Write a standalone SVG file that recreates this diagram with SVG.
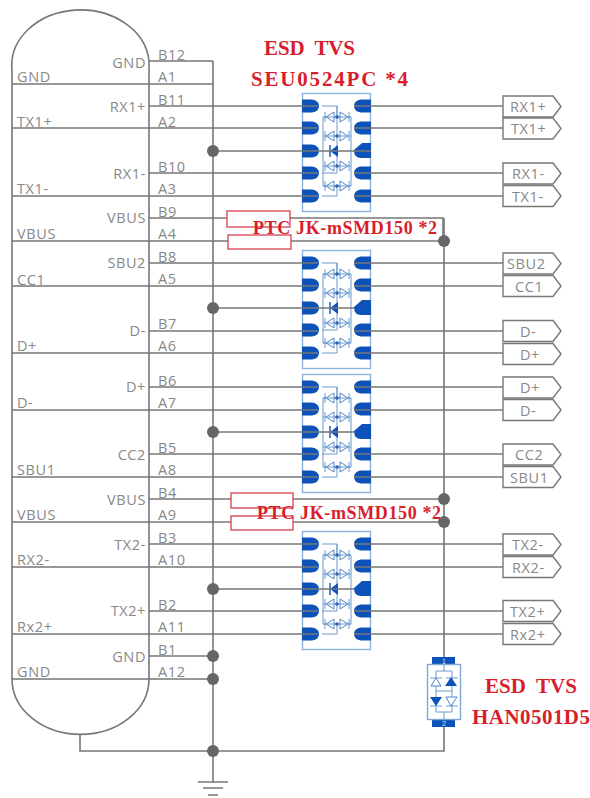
<svg xmlns="http://www.w3.org/2000/svg" width="590" height="798" viewBox="0 0 590 798">
<style>
.w{fill:none;stroke:#777;stroke-width:1.6}
.t{font-family:"Open Sans","Liberation Sans",sans-serif;font-size:14.5px;fill:#888;letter-spacing:.6px}
.e{text-anchor:end}
.r{font-family:"Liberation Serif",serif;font-weight:bold;fill:#d81e2c;font-size:21px;white-space:pre}
.s{font-size:18px}
.p{fill:#fff;stroke:#d5404c;stroke-width:1.3}
.tag{fill:#fff;stroke:#777;stroke-width:1.4}
.d{fill:#666}
.pad{fill:#0d52b8}
.thin{fill:none;stroke:#6d9ad0;stroke-width:1}
.dio{fill:#fff;stroke:#4f86c6;stroke-width:1}
.n{font-family:"Liberation Sans",sans-serif;font-size:7px;fill:#cfe0f5;text-anchor:middle}
</style>
<defs>
<path id="lpad" class="pad" d="M0 -6.500H10Q17 -5.500 17 0Q17 5.500 10 6.500H0Z"/>
<path id="rpad" class="pad" d="M17 -6.500H7Q0 -5.500 0 0Q0 5.500 7 6.500H17Z"/>
<g id="pair"><path class="dio" d="M-3 -5V5L-11 0Z"/><path class="dio" d="M3 -5V5L11 0Z"/><path class="thin" d="M-12 -5V5M12 -5V5M-14 0H14"/><circle cx="0" cy="0" r="1.8" fill="#2a63b5"/></g>
<g id="chip">
<rect x="0.5" y="0.5" width="68" height="118" fill="#fff" stroke="#8fb2dc" stroke-width="1.4"/>
<path class="thin" d="M20 13H35V24M20 103H35V93M20 80H35V13M21 24H49V93H21Z"/>
<use href="#pair" x="35" y="24"/><use href="#pair" x="35" y="43"/><use href="#pair" x="35" y="73"/><use href="#pair" x="35" y="93"/>
<path d="M36 52V64L28 58Z" fill="#0d52b8"/><path d="M28 52V64" stroke="#0d52b8" stroke-width="1.4"/>
<use href="#lpad" y="13"/><use href="#lpad" y="35"/><use href="#lpad" y="58"/><use href="#lpad" y="80"/><use href="#lpad" y="103"/>
<use href="#rpad" x="52" y="13"/><use href="#rpad" x="52" y="35"/><path class="pad" d="M69 50H60L52 57Q52 65 59 65H69Z"/><use href="#rpad" x="52" y="80"/><use href="#rpad" x="52" y="103"/>
</g>
<path id="tagp" class="tag" d="M0 -10.500H50L58 0L50 10.500H0Z"/>
</defs>
<rect width="590" height="798" fill="#fff"/>

<g id="esd-1"><use href="#chip" x="302" y="93"/></g>
<g id="esd-2"><use href="#chip" x="302" y="250"/></g>
<g id="esd-3"><use href="#chip" x="302" y="374"/></g>
<g id="esd-4"><use href="#chip" x="302" y="531"/></g>

<g id="esd-han">
<rect x="432" y="657" width="23" height="8" class="pad"/><rect x="432" y="719" width="23" height="8" class="pad"/>
<rect x="427.500" y="664.500" width="33" height="55" fill="#fff" stroke="#7fa6d6" stroke-width="1.4"/>
<path class="thin" d="M444 665V671H436V712H452V671H444M444 712V719M430 678H442M446 678H458M430 706H442M446 706H458M436 691H452"/>
<path class="dio" d="M436 678L431 686H441Z"/><path d="M451 677L445 686H457Z" class="pad"/><path d="M430 697H442L436 706Z" class="pad"/><path class="dio" d="M446 697H457L451 706Z"/>
<text class="n" x="444" y="664">1</text><text class="n" x="444" y="726">2</text>
</g>

<g id="usb-outline">
<path class="w" d="M149 84V61A68 55 0 0 0 12 70V679A68 55 0 0 0 149 679V84"/>
</g>

<g id="connectors">
<path class="w" d="M149 61H213M12 84H213M149 106H318M12 128H318M213 151H354M149 173H318M12 196H318M149 218H443V241M12 241H443M149 263H318M12 286H318M213 308H354M149 331H318M12 353H318M149 387H318M12 410H318M213 432H354M149 454H318M12 477H318M149 499H444M12 522H444M149 544H318M12 567H318M213 589H354M149 611H318M12 634H318M149 656H213M12 679H213"/>
<path class="w" d="M354 106H503M354 128H503M354 151H371M354 173H503M354 196H503M354 263H503M354 286H503M354 331H503M354 353H503M354 387H503M354 410H503M354 454H503M354 477H503M354 544H503M354 567H503M354 611H503M354 634H503"/>
<path class="w" d="M213 61V782M444 218V657M444 727V751H80V734"/>
<path class="w" d="M198 782H228M203 788H223M208 795H218"/>
</g>

<g id="junctions" class="d">
<circle cx="213" cy="151" r="6"/><circle cx="213" cy="308" r="6"/><circle cx="213" cy="432" r="6"/><circle cx="213" cy="589" r="6"/><circle cx="213" cy="656" r="6"/><circle cx="213" cy="679" r="6"/><circle cx="213" cy="751" r="6"/>
<circle cx="444" cy="241" r="6"/><circle cx="444" cy="499" r="6"/><circle cx="444" cy="522" r="6"/>
</g>

<g id="usb-connector-labels">
<text class="t" x="17" y="82">GND</text><text class="t" x="17" y="127">TX1+</text><text class="t" x="17" y="194">TX1-</text><text class="t" x="17" y="239">VBUS</text><text class="t" x="17" y="285">CC1</text><text class="t" x="17" y="351">D+</text><text class="t" x="17" y="408">D-</text><text class="t" x="17" y="475">SBU1</text><text class="t" x="17" y="520">VBUS</text><text class="t" x="17" y="565">RX2-</text><text class="t" x="17" y="632">Rx2+</text><text class="t" x="17" y="677">GND</text>
<text class="t e" x="146" y="68">GND</text><text class="t e" x="146" y="112">RX1+</text><text class="t e" x="146" y="179">RX1-</text><text class="t e" x="146" y="223">VBUS</text><text class="t e" x="146" y="268">SBU2</text><text class="t e" x="146" y="336">D-</text><text class="t e" x="146" y="392">D+</text><text class="t e" x="146" y="460">CC2</text><text class="t e" x="146" y="505">VBUS</text><text class="t e" x="146" y="550">TX2-</text><text class="t e" x="146" y="616">TX2+</text><text class="t e" x="146" y="662">GND</text>
<text class="t" x="158" y="60">B12</text><text class="t" x="158" y="82">A1</text><text class="t" x="158" y="105">B11</text><text class="t" x="158" y="127">A2</text><text class="t" x="158" y="172">B10</text><text class="t" x="158" y="194">A3</text><text class="t" x="158" y="217">B9</text><text class="t" x="158" y="239">A4</text><text class="t" x="158" y="262">B8</text><text class="t" x="158" y="284">A5</text><text class="t" x="158" y="329">B7</text><text class="t" x="158" y="351">A6</text><text class="t" x="158" y="386">B6</text><text class="t" x="158" y="408">A7</text><text class="t" x="158" y="453">B5</text><text class="t" x="158" y="475">A8</text><text class="t" x="158" y="498">B4</text><text class="t" x="158" y="520">A9</text><text class="t" x="158" y="543">B3</text><text class="t" x="158" y="565">A10</text><text class="t" x="158" y="610">B2</text><text class="t" x="158" y="632">A11</text><text class="t" x="158" y="655">B1</text><text class="t" x="158" y="677">A12</text>
</g>

<g id="ptc-top"><rect class="p" x="227" y="211" width="63" height="16"/><rect class="p" x="228" y="235" width="63" height="14"/></g>
<g id="ptc-bottom"><rect class="p" x="231" y="493" width="62" height="15"/><rect class="p" x="231" y="516" width="62" height="14"/></g>

<g id="tags">
<use href="#tagp" x="503" y="106.500"/><use href="#tagp" x="503" y="128.500"/><use href="#tagp" x="503" y="173.500"/><use href="#tagp" x="503" y="196"/><use href="#tagp" x="503" y="263.500"/><use href="#tagp" x="503" y="286"/><use href="#tagp" x="503" y="331"/><use href="#tagp" x="503" y="354"/><use href="#tagp" x="503" y="387.500"/><use href="#tagp" x="503" y="410"/><use href="#tagp" x="503" y="454.500"/><use href="#tagp" x="503" y="477"/><use href="#tagp" x="503" y="544.500"/><use href="#tagp" x="503" y="567"/><use href="#tagp" x="503" y="611"/><use href="#tagp" x="503" y="634"/>
<text class="t" x="510" y="112">RX1+</text><text class="t" x="511" y="134">TX1+</text><text class="t" x="512" y="179">RX1-</text><text class="t" x="512" y="202">TX1-</text><text class="t" x="507" y="269">SBU2</text><text class="t" x="515" y="292">CC1</text><text class="t" x="520" y="337">D-</text><text class="t" x="520" y="360">D+</text><text class="t" x="520" y="393">D+</text><text class="t" x="520" y="416">D-</text><text class="t" x="515" y="460">CC2</text><text class="t" x="510" y="483">SBU1</text><text class="t" x="512" y="550">TX2-</text><text class="t" x="512" y="573">RX2-</text><text class="t" x="510" y="617">TX2+</text><text class="t" x="510" y="640">Rx2+</text>
</g>

<g id="annotations">
<text class="r" x="264" y="55" textLength="91" lengthAdjust="spacing">ESD  TVS</text>
<text class="r" x="251" y="86" textLength="157" lengthAdjust="spacing">SEU0524PC *4</text>
<text class="r s" x="253" y="234" textLength="184" lengthAdjust="spacing">PTC JK-mSMD150 *2</text>
<text class="r s" x="257" y="519" textLength="184" lengthAdjust="spacing">PTC JK-mSMD150 *2</text>
<text class="r" x="485" y="693" textLength="92" lengthAdjust="spacing">ESD  TVS</text>
<text class="r" x="472" y="724" textLength="118" lengthAdjust="spacing">HAN0501D5</text>
</g>
</svg>
